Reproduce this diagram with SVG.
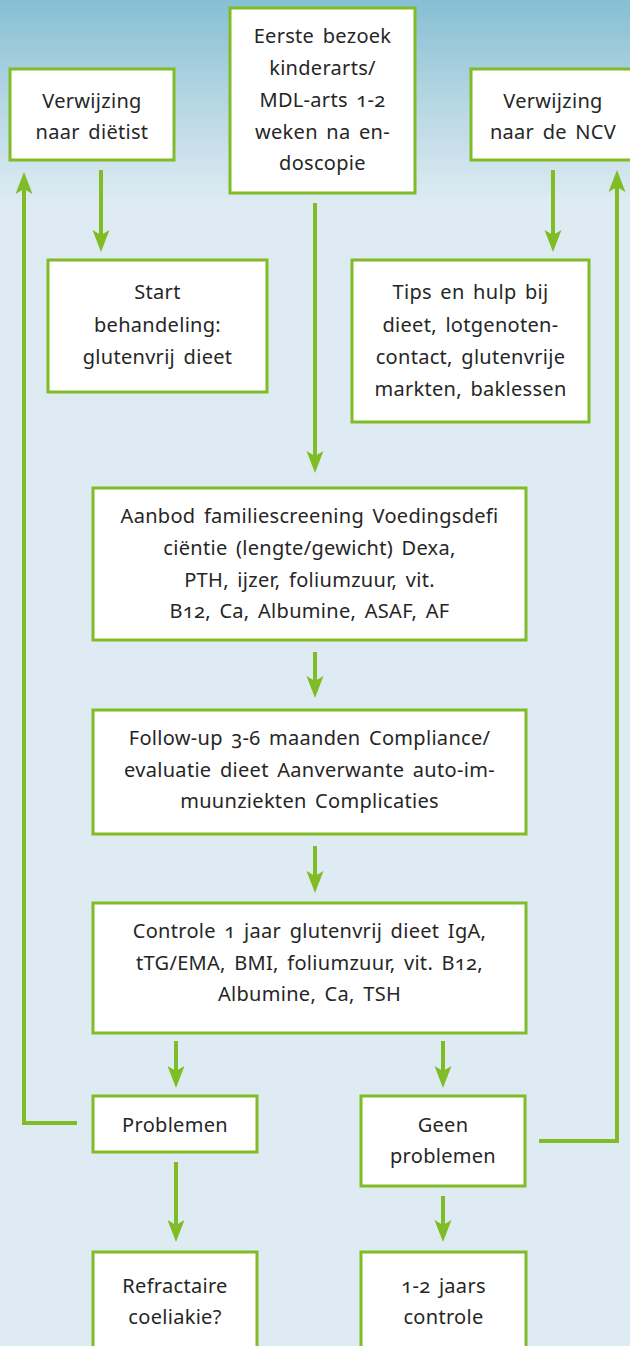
<svg xmlns="http://www.w3.org/2000/svg" width="630" height="1346" viewBox="0 0 630 1346">
<defs>
<linearGradient id="bg" x1="0" y1="0" x2="0" y2="1346" gradientUnits="userSpaceOnUse">
<stop offset="0" stop-color="#86bfd3"/>
<stop offset="0.075" stop-color="#b5d6e3"/>
<stop offset="0.15" stop-color="#deebf2"/>
<stop offset="1" stop-color="#deebf2"/>
</linearGradient>
<marker id="ah" markerUnits="userSpaceOnUse" markerWidth="24" markerHeight="20" refX="5" refY="0" orient="auto" overflow="visible">
<path d="M0,-8.5 L22,0 L0,8.5 L5,0 Z" fill="#80bc25"/>
</marker>
<style>
.box{fill:#ffffff;stroke:#80bc25;stroke-width:3}
.t{font-family:"Noto Sans","Liberation Sans",sans-serif;font-size:20px;letter-spacing:0.3px;word-spacing:3px;fill:#262626;text-anchor:middle;font-variant-numeric:oldstyle-nums}
.c{fill:none;stroke:#80bc25;stroke-width:4;marker-end:url(#ah)}
</style>
</defs>
<rect x="0" y="0" width="630" height="1346" fill="url(#bg)"/>

<g id="connectors">
<line class="c" x1="101" y1="170" x2="101" y2="235"/>
<polyline class="c" points="77,1123 24,1123 24,189"/>
<line class="c" x1="315" y1="203" x2="315" y2="456"/>
<line class="c" x1="553" y1="170" x2="553" y2="235"/>
<polyline class="c" points="539,1141 617,1141 617,187"/>
<line class="c" x1="315" y1="652" x2="315" y2="681"/>
<line class="c" x1="315" y1="846" x2="315" y2="876"/>
<line class="c" x1="176" y1="1041" x2="176" y2="1071"/>
<line class="c" x1="443" y1="1041" x2="443" y2="1071"/>
<line class="c" x1="176" y1="1162" x2="176" y2="1225"/>
<line class="c" x1="443" y1="1196" x2="443" y2="1225"/>
</g>

<g id="n-dietist">
<rect class="box" x="10" y="69" width="164" height="91"/>
<text class="t" x="92" y="108">Verwijzing</text>
<text class="t" x="92" y="139">naar diëtist</text>
</g>
<g id="n-eerste">
<rect class="box" x="230" y="8" width="185" height="185"/>
<text class="t" x="322.5" y="43">Eerste bezoek</text>
<text class="t" x="322.5" y="75">kinderarts/</text>
<text class="t" x="322.5" y="107">MDL-arts 1-2</text>
<text class="t" x="322.5" y="139">weken na en-</text>
<text class="t" x="322.5" y="170">doscopie</text>
</g>
<g id="n-ncv">
<rect class="box" x="471" y="69" width="175" height="91"/>
<text class="t" x="553" y="108">Verwijzing</text>
<text class="t" x="553" y="139">naar de NCV</text>
</g>
<g id="n-start">
<rect class="box" x="48" y="260" width="219" height="132"/>
<text class="t" x="157.5" y="299">Start</text>
<text class="t" x="157.5" y="332">behandeling:</text>
<text class="t" x="157.5" y="364">glutenvrij dieet</text>
</g>
<g id="n-tips">
<rect class="box" x="352" y="260" width="237" height="162"/>
<text class="t" x="470.5" y="299">Tips en hulp bij</text>
<text class="t" x="470.5" y="332">dieet, lotgenoten-</text>
<text class="t" x="470.5" y="364">contact, glutenvrije</text>
<text class="t" x="470.5" y="396">markten, baklessen</text>
</g>
<g id="n-aanbod">
<rect class="box" x="93" y="488" width="433" height="152"/>
<text class="t" x="309.5" y="523">Aanbod familiescreening Voedingsdefi</text>
<text class="t" x="309.5" y="555">ciëntie (lengte/gewicht) Dexa,</text>
<text class="t" x="309.5" y="587">PTH, ijzer, foliumzuur, vit.</text>
<text class="t" x="309.5" y="618">B12, Ca, Albumine, ASAF, AF</text>
</g>
<g id="n-followup">
<rect class="box" x="93" y="710" width="433" height="124"/>
<text class="t" x="309.5" y="745">Follow-up 3-6 maanden Compliance/</text>
<text class="t" x="309.5" y="777">evaluatie dieet Aanverwante auto-im-</text>
<text class="t" x="309.5" y="808">muunziekten Complicaties</text>
</g>
<g id="n-controle">
<rect class="box" x="93" y="903" width="433" height="130"/>
<text class="t" x="309.5" y="938">Controle 1 jaar glutenvrij dieet IgA,</text>
<text class="t" x="309.5" y="970">tTG/EMA, BMI, foliumzuur, vit. B12,</text>
<text class="t" x="309.5" y="1001">Albumine, Ca, TSH</text>
</g>
<g id="n-problemen">
<rect class="box" x="93" y="1096" width="164" height="56"/>
<text class="t" x="175" y="1132">Problemen</text>
</g>
<g id="n-geen">
<rect class="box" x="361" y="1096" width="164" height="90"/>
<text class="t" x="443" y="1132">Geen</text>
<text class="t" x="443" y="1163">problemen</text>
</g>
<g id="n-refractaire">
<rect class="box" x="93" y="1252" width="164" height="120"/>
<text class="t" x="175" y="1293">Refractaire</text>
<text class="t" x="175" y="1324">coeliakie?</text>
</g>
<g id="n-jaars">
<rect class="box" x="361" y="1252" width="165" height="120"/>
<text class="t" x="443.5" y="1293">1-2 jaars</text>
<text class="t" x="443.5" y="1324">controle</text>
</g>
</svg>
